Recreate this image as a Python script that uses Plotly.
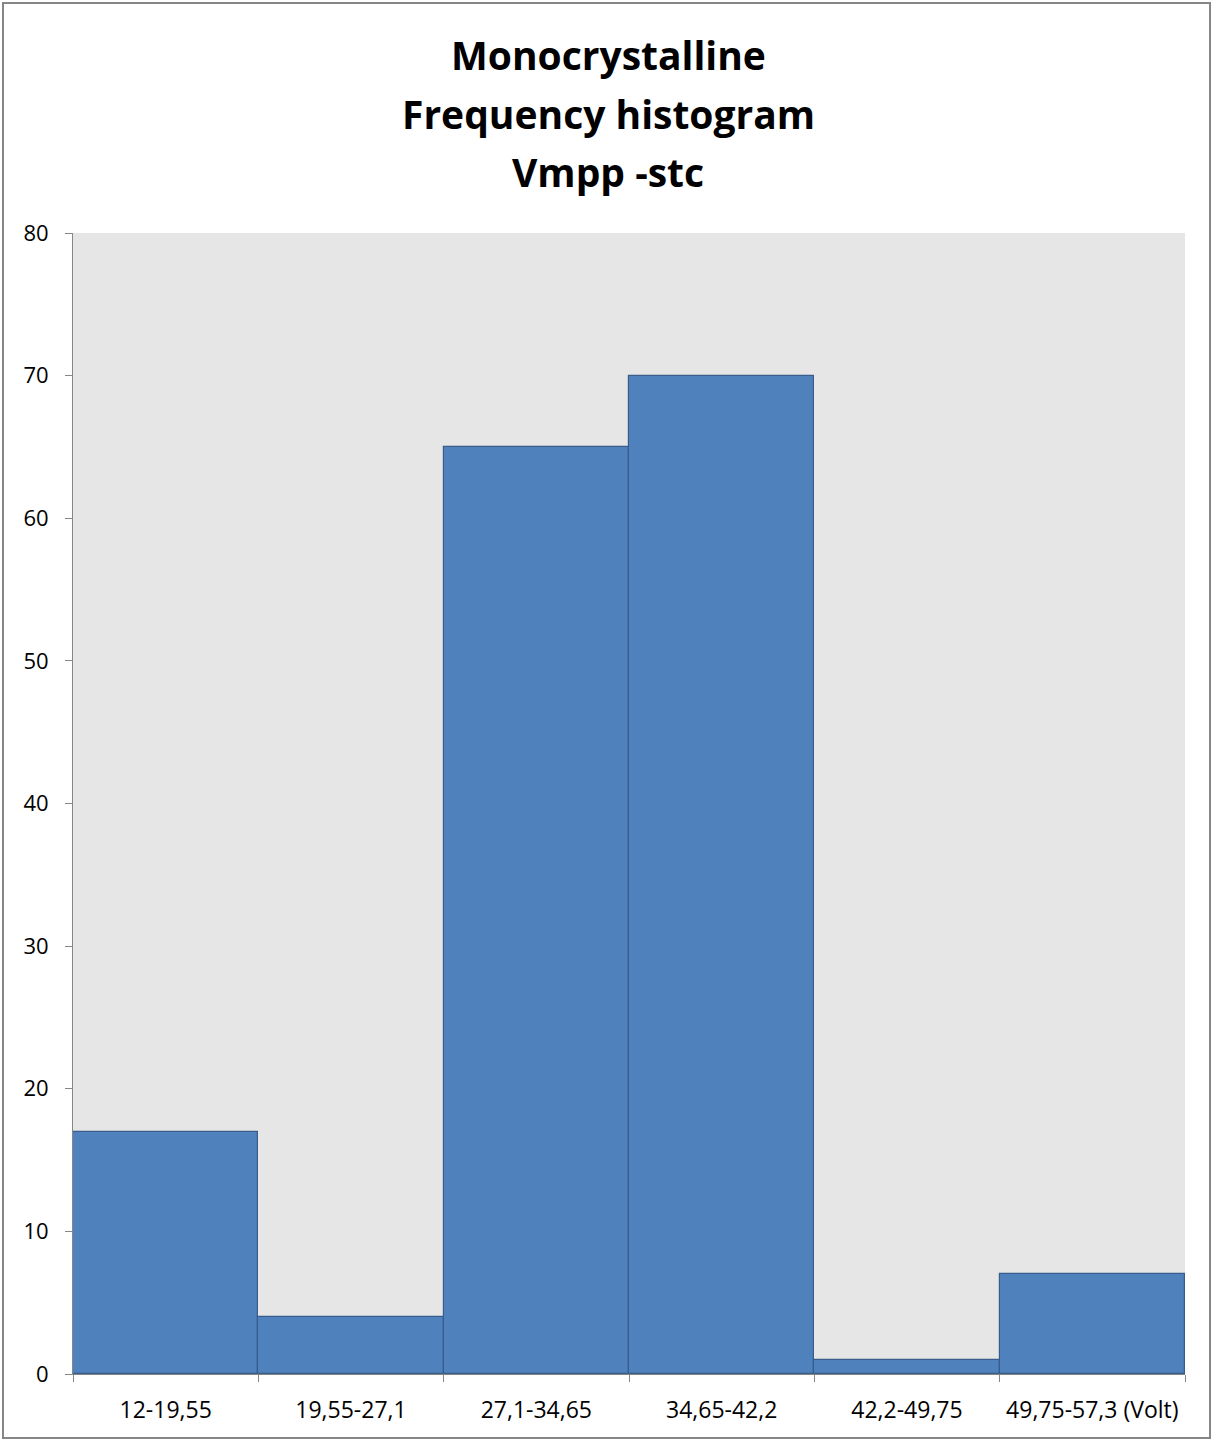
import plotly.graph_objects as go

categories = ["12-19,55", "19,55-27,1", "27,1-34,65", "34,65-42,2", "42,2-49,75", "49,75-57,3 (Volt)"]
frequencies = [17, 4, 65, 70, 1, 7]
y_ticks = [0, 10, 20, 30, 40, 50, 60, 70, 80]
title_lines = ["Monocrystalline", "Frequency histogram", "Vmpp -stc"]

W, H = 1213, 1441
L, R, T, B = 73, 28, 233, 67
pw, ph = W - L - R, H - T - B

FONT = "Open Sans, Liberation Sans, sans-serif"
GREY = "#868686"
title_px = [55, 114, 172]

fig = go.Figure(go.Bar(
    x=categories, y=frequencies,
    marker=dict(color="#4f81bd", line=dict(color="#385d8a", width=1.2)),
))

annotations = [
    dict(
        text=f"<b>{line}</b>",
        xref="paper", yref="paper",
        x=(608 - L) / pw, xanchor="center",
        y=(H - B - py) / ph, yanchor="middle",
        showarrow=False, align="center",
        font=dict(size=39, family=FONT, color="black"),
    )
    for line, py in zip(title_lines, title_px)
]

fig.update_layout(
    width=W, height=H,
    margin=dict(l=L, r=R, t=T, b=B),
    paper_bgcolor="white", plot_bgcolor="#e6e6e6",
    bargap=0, showlegend=False,
    font=dict(family=FONT, color="black"),
    annotations=annotations,
    xaxis=dict(
        type="category", range=[-0.5, 5.5], tickson="boundaries",
        ticks="outside", ticklen=7, tickcolor=GREY, tickwidth=1,
        showline=True, linecolor=GREY, linewidth=1,
        showgrid=False, tickfont=dict(size=23, family=FONT),
        ticklabelstandoff=15, fixedrange=True,
    ),
    yaxis=dict(
        range=[0, 80], tickvals=y_ticks,
        ticks="outside", ticklen=7, tickcolor=GREY, tickwidth=1,
        showline=True, linecolor=GREY, linewidth=1,
        showgrid=False, zeroline=False, tickfont=dict(size=22, family=FONT),
        ticklabelstandoff=12, fixedrange=True,
    ),
    shapes=[dict(
        type="rect", xref="paper", yref="paper",
        x0=(3 - L) / pw, x1=(1210 - L) / pw,
        y0=(H - B - 1438) / ph, y1=(H - B - 3) / ph,
        line=dict(color=GREY, width=2), fillcolor="rgba(0,0,0,0)", layer="below",
    )],
)

fig.write_html(
    "out.html",
    config={"displayModeBar": False},
    post_script="document.body.style.margin='0';document.body.style.overflow='hidden';",
)
